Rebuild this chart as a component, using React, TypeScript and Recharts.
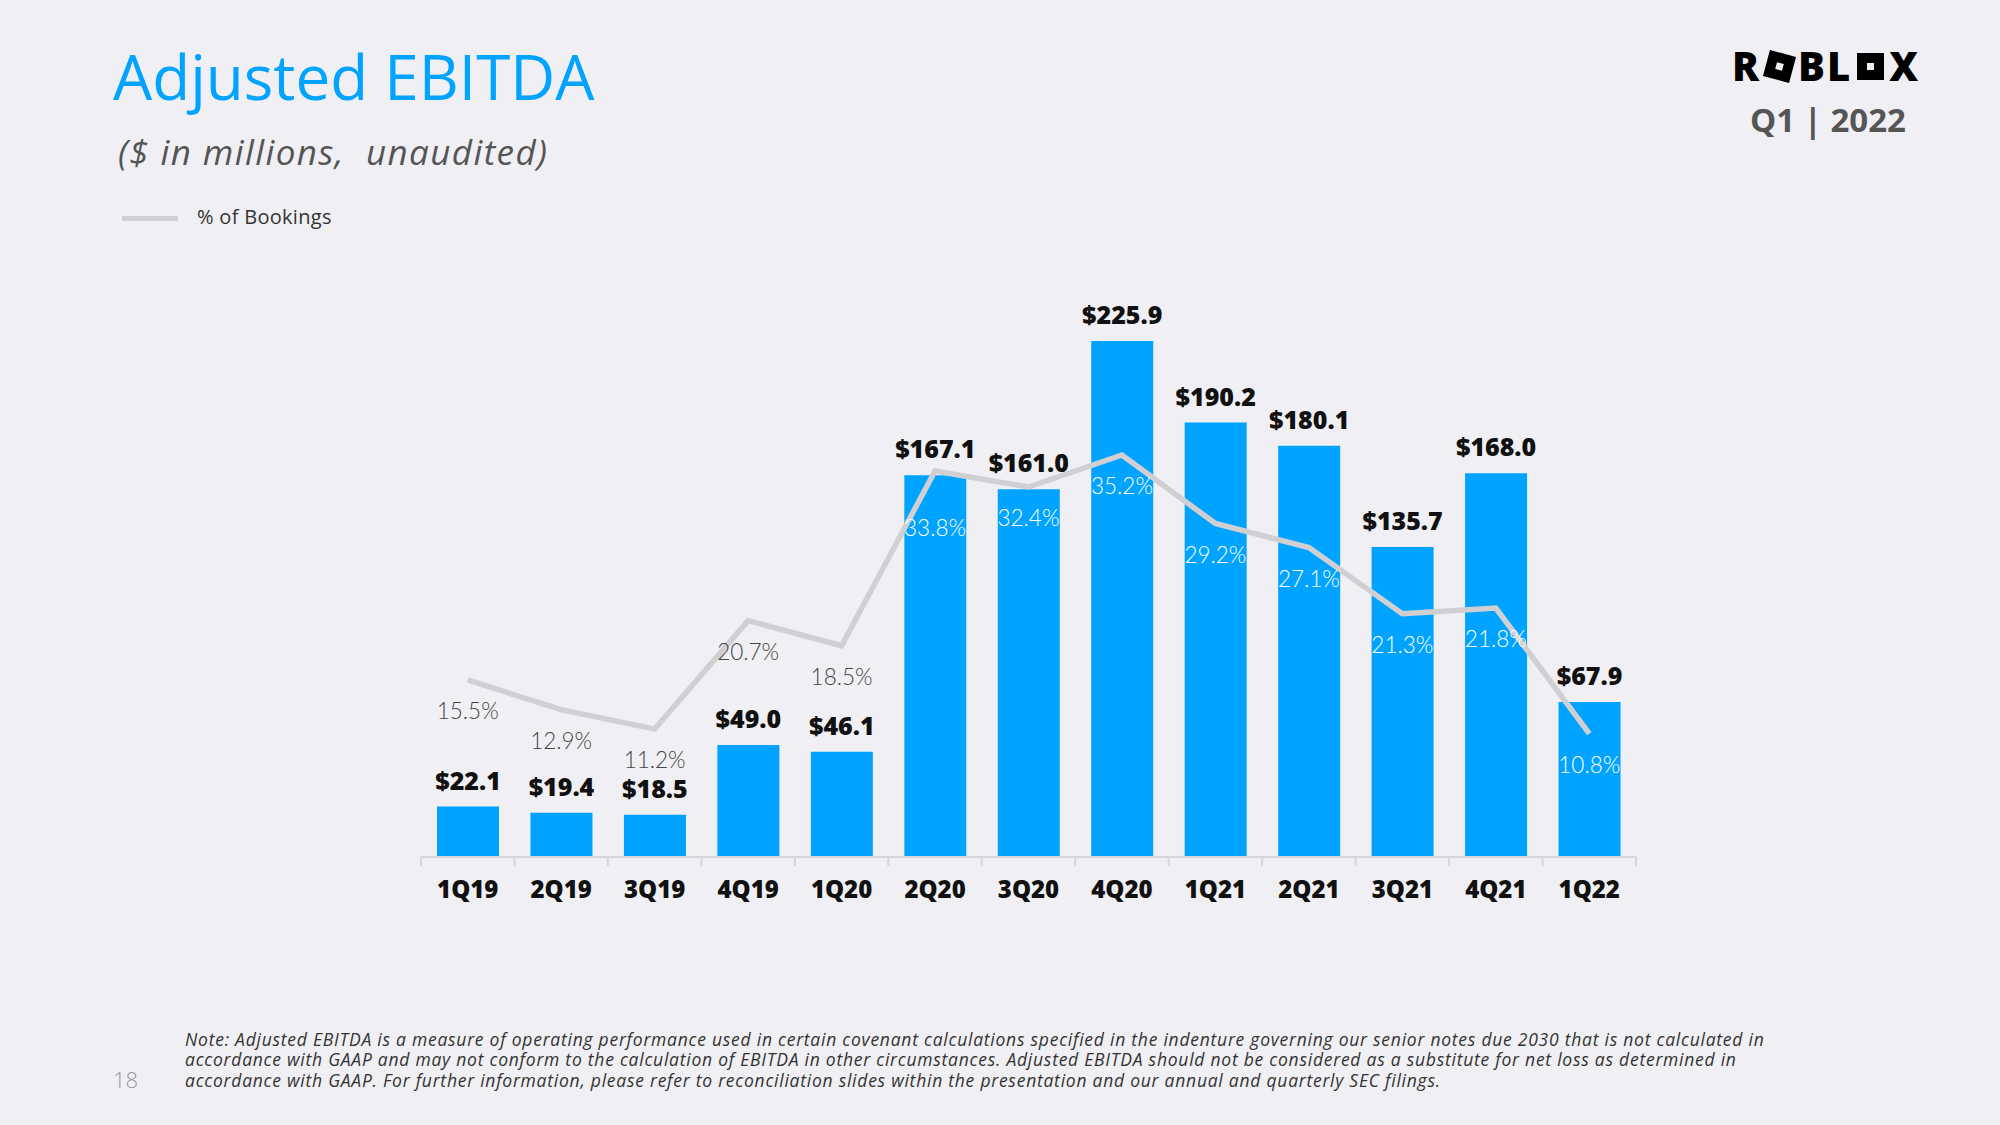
import { ComposedChart, Bar, Line, XAxis, YAxis, LabelList } from "recharts";

const quarters = ["1Q19", "2Q19", "3Q19", "4Q19", "1Q20", "2Q20", "3Q20", "4Q20", "1Q21", "2Q21", "3Q21", "4Q21", "1Q22"];
const ebitda = [22.1, 19.4, 18.5, 49.0, 46.1, 167.1, 161.0, 225.9, 190.2, 180.1, 135.7, 168.0, 67.9];
const pctOfBookings = [15.5, 12.9, 11.2, 20.7, 18.5, 33.8, 32.4, 35.2, 29.2, 27.1, 21.3, 21.8, 10.8];

const footnote = [
  "Note: Adjusted EBITDA is a measure of operating performance used in certain covenant calculations specified in the indenture governing our senior notes due 2030 that is not calculated in",
  "accordance with GAAP and may not conform to the calculation of EBITDA in other circumstances. Adjusted EBITDA should not be considered as a substitute for net loss as determined in",
  "accordance with GAAP. For further information, please refer to reconciliation slides within the presentation and our annual and quarterly SEC filings.",
];

const data = quarters.map((q, i) => ({ q, usd: ebitda[i], pct: pctOfBookings[i] }));

const BLUE = "#00a3ff";
const LINE_GRAY = "#d0d0d3";
const BG = "#f0f0f4";
const FONT = "'Open Sans', 'DejaVu Sans', sans-serif";

// chart box + margins chosen so the plot spans x 421..1636, y 286..857 on the page
const CHART_W = 1260;
const CHART_H = 700;
const X_AXIS_H = 30;
const M = { top: 36, right: 24, bottom: 63, left: 21 };
const PLOT_W = CHART_W - M.left - M.right;
const PLOT_H = CHART_H - M.top - M.bottom - X_AXIS_H;
const USD_MAX = 250;
const PCT_MAX = 50;

function QuarterTick(props: any) {
  const { x, y, payload, index } = props;
  const band = PLOT_W / quarters.length;
  return (
    <g>
      <line x1={x - band / 2} y1={y} x2={x - band / 2} y2={y + 9} stroke="#d6d6d8" strokeWidth={2} />
      {index === quarters.length - 1 && (
        <line x1={x + band / 2} y1={y} x2={x + band / 2} y2={y + 9} stroke="#d6d6d8" strokeWidth={2} />
      )}
      <text x={x} y={y + 41} textAnchor="middle" fontFamily={FONT} fontWeight={800} fontSize={24} fill="#111">
        {payload.value}
      </text>
    </g>
  );
}

function UsdLabel(props: any) {
  const { x, y, width, value } = props;
  return (
    <text x={x + width / 2} y={y - 17} textAnchor="middle" fontFamily={FONT} fontWeight={800} fontSize={25} fill="#111">
      ${Number(value).toFixed(1)}
    </text>
  );
}

function PctLabel(props: any) {
  const { x, y, index } = props;
  const steep = index > 0 && pctOfBookings[index] - pctOfBookings[index - 1] > 10;
  const cy = y + (steep ? 57 : 31);
  const barTop = M.top + PLOT_H * (1 - ebitda[index] / USD_MAX);
  const inside = cy > barTop + 5;
  return (
    <text x={x} y={cy + 8} textAnchor="middle" fontFamily="Lato, 'Open Sans', sans-serif" fontWeight={300} fontSize={22.5} fill={inside ? "#ffffff" : "#444"}>
      {pctOfBookings[index].toFixed(1)}%
    </text>
  );
}

export default function App() {
  return (
    <div style={{ position: "absolute", left: 0, top: 0, width: 2000, height: 1125, background: BG, fontFamily: FONT, overflow: "hidden" }}>
      <div style={{ position: "absolute", left: 113, top: 39, fontSize: 62, color: BLUE, lineHeight: 1.2 }}>Adjusted EBITDA</div>
      <div style={{ position: "absolute", left: 118, top: 131, fontSize: 35, letterSpacing: 1.4, fontStyle: "italic", color: "#555", lineHeight: 1.2 }}>
        ($ in millions,&nbsp; unaudited)
      </div>

      {/* legend */}
      <div style={{ position: "absolute", left: 122, top: 216, width: 56, height: 5, background: LINE_GRAY }} />
      <div style={{ position: "absolute", left: 197, top: 205, fontSize: 20, letterSpacing: 0.3, color: "#333", lineHeight: 1.2 }}>% of Bookings</div>

      {/* logo */}
      <div style={{ position: "absolute", left: 1732, top: 44, width: 200, fontSize: 40, fontWeight: 900, color: "#000", letterSpacing: 2, lineHeight: 1.1, display: "flex", alignItems: "center" }}>
        <span>R</span>
        <span style={{ display: "inline-block", width: 27, height: 27, background: "#000", transform: "rotate(15deg)", margin: "0 5px", position: "relative" }}>
          <span style={{ position: "absolute", left: 10, top: 10, width: 7, height: 7, background: BG }} />
        </span>
        <span>BL</span>
        <span style={{ display: "inline-block", width: 27, height: 27, background: "#000", margin: "0 5px", position: "relative" }}>
          <span style={{ position: "absolute", left: 10, top: 10, width: 7, height: 7, background: BG }} />
        </span>
        <span>X</span>
      </div>
      <div style={{ position: "absolute", left: 1728, top: 100, width: 200, textAlign: "center", fontSize: 33, fontWeight: 700, color: "#555", lineHeight: 1.2 }}>
        Q1 | 2022
      </div>

      <div style={{ position: "absolute", left: 400, top: 250 }}>
        <ComposedChart width={CHART_W} height={CHART_H} data={data} margin={M}>
          <XAxis
            dataKey="q"
            height={X_AXIS_H}
            axisLine={{ stroke: "#d6d6d8", strokeWidth: 2 }}
            tickLine={false}
            tickSize={0}
            tickMargin={0}
            interval={0}
            tick={<QuarterTick />}
          />
          <YAxis yAxisId="usd" domain={[0, USD_MAX]} hide />
          <YAxis yAxisId="pct" orientation="right" domain={[0, PCT_MAX]} hide />
          <Bar dataKey="usd" yAxisId="usd" fill={BLUE} barSize={62} isAnimationActive={false}>
            <LabelList dataKey="usd" content={<UsdLabel />} />
          </Bar>
          <Line
            dataKey="pct"
            yAxisId="pct"
            type="linear"
            stroke={LINE_GRAY}
            strokeWidth={5.5}
            dot={false}
            activeDot={false}
            isAnimationActive={false}
          >
            <LabelList dataKey="pct" content={<PctLabel />} />
          </Line>
        </ComposedChart>
      </div>

      <div style={{ position: "absolute", left: 113, top: 1066, fontSize: 22, fontWeight: 300, color: "#999", lineHeight: 1.2 }}>18</div>
      <div style={{ position: "absolute", left: 185, top: 1029, fontSize: 17.5, letterSpacing: 0.75, fontStyle: "italic", color: "#333", lineHeight: "20.4px", whiteSpace: "nowrap" }}>
        {footnote.map((l, i) => (
          <div key={i}>{l}</div>
        ))}
      </div>
    </div>
  );
}
